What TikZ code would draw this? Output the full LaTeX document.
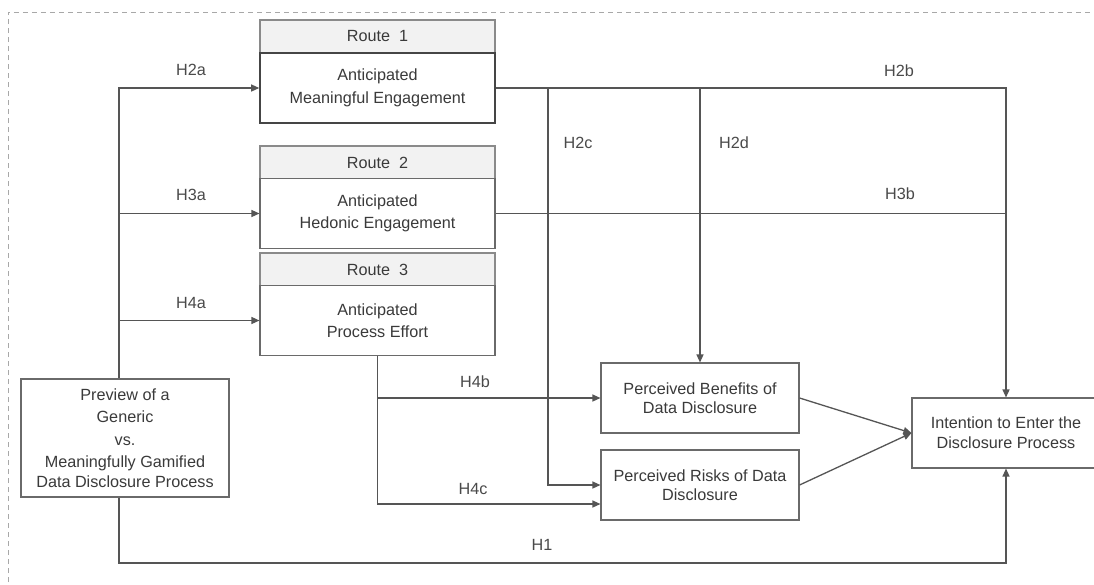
\documentclass[tikz,border=0pt]{standalone}
\usepackage{fontspec}
\setmainfont{Liberation Sans}
\usetikzlibrary{arrows.meta}
\definecolor{linec}{HTML}{555555}
\definecolor{boxc}{HTML}{6A6A6A}
\definecolor{darkbox}{HTML}{454545}
\definecolor{hdrfill}{HTML}{F2F2F2}
\definecolor{hdrline}{HTML}{8A8A8A}
\definecolor{txt}{HTML}{3A3A3A}
\definecolor{lbl}{HTML}{4A4A4A}
\definecolor{dashc}{HTML}{A8A8A8}
\tikzset{
  every node/.style={font=\fontsize{16.2}{22.5}\selectfont, text=txt},
  box/.style={draw=boxc, line width=1.1pt, fill=white, align=center, inner sep=0pt},
  hdr/.style={draw=hdrline, line width=1.3pt, fill=hdrfill, align=center, inner sep=0pt, minimum width=235pt, minimum height=33pt},
  routebox/.style={box, minimum width=235pt, minimum height=70pt},
  conn/.style={draw=linec, line width=1.3pt},
  arr/.style={conn, -{Triangle[length=8pt,width=7pt]}},
  hlabel/.style={text=lbl, inner sep=0pt}
}
\begin{document}
\begin{tikzpicture}[x=1pt,y=-1pt]
\clip (0,0) rectangle (1094,584);
\fill[white] (0,0) rectangle (1094,584);
% dashed frame
\draw[dashc, line width=0.8pt, dash pattern=on 5pt off 4pt] (8,600) |- (1110,12);

% route boxes
\node[hdr] (r1h) at (377.5,36.5) {Route\ \ 1};
\node[routebox, draw=darkbox, line width=1.6pt] (r1) at (377.5,88) {Anticipated\\Meaningful Engagement};
\node[hdr] (r2h) at (377.5,162.5) {Route\ \ 2};
\node[routebox] (r2) at (377.5,213.5) {Anticipated\\Hedonic Engagement};
\node[hdr] (r3h) at (377.5,269.5) {Route\ \ 3};
\node[routebox] (r3) at (377.5,320.5) {Anticipated\\Process Effort};

% other boxes
\node[box, minimum width=208pt, minimum height=118pt] (prev) at (125,438)
  {Preview of a\\Generic\\vs.\\Meaningfully Gamified\\[-3pt]Data Disclosure Process};
\node[box, minimum width=198pt, minimum height=70pt, font=\fontsize{16.2}{19.5}\selectfont] (ben) at (700,398)
  {Perceived Benefits of\\Data Disclosure};
\node[box, minimum width=198pt, minimum height=70pt, font=\fontsize{16.2}{19.5}\selectfont] (risk) at (700,485)
  {Perceived Risks of Data\\Disclosure};
\node[box, minimum width=188pt, minimum height=70pt, font=\fontsize{16.2}{20}\selectfont] (intent) at (1006,433)
  {Intention to Enter the\\Disclosure Process};

% helper coordinates
\coordinate (spine) at (119,0);
\coordinate (c2) at (548,0);
\coordinate (h1) at (119,563);

% connectors
\draw[arr] (prev.north -| spine) |- (r1.west);
\draw[arr] (r2.west -| spine) -- (r2.west);
\draw[arr] (r3.west -| spine) -- (r3.west);
\draw[arr] (r1.east) -| (intent.north);
\draw[conn] (r2.east) -- (r2.east -| intent.north);
\draw[arr] (r1.east -| c2) |- (risk.west);
\draw[arr] (r1.east -| ben.north) -- (ben.north);
\draw[arr] (r3.south) |- (ben.west);
\draw[arr] (r3.south) |- ([yshift=-19pt]risk.west);
\draw[arr] (ben.east) -- (intent.west);
\draw[arr] (risk.east) -- (intent.west);
\draw[arr] (prev.south -| spine) -- (h1) -| (intent.south);

% labels
\node[hlabel] (lh2a) at (191,70) {H2a};
\node[hlabel] (lh3a) at (191,195) {H3a};
\node[hlabel] (lh4a) at (191,303) {H4a};
\node[hlabel] (lh2b) at (899,71) {H2b};
\node[hlabel] (lh3b) at (900,194) {H3b};
\node[hlabel] (lh2c) at (578,143) {H2c};
\node[hlabel] (lh2d) at (734,143) {H2d};
\node[hlabel] (lh4b) at (475,382) {H4b};
\node[hlabel] (lh4c) at (473,489) {H4c};
\node[hlabel] (lh1) at (542,545) {H1};
\end{tikzpicture}
\end{document}
